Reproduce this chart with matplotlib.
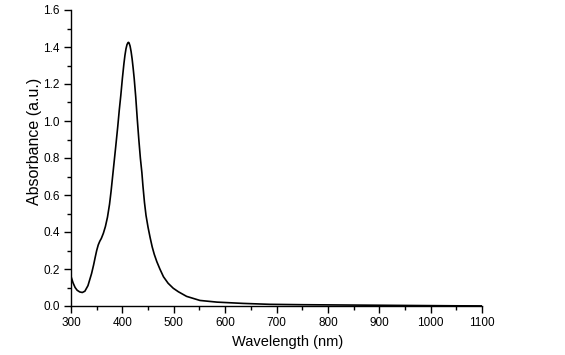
import matplotlib
matplotlib.use("Agg")
import matplotlib.pyplot as plt
from matplotlib.ticker import MultipleLocator

wavelength = [300, 304, 308, 312, 317, 322, 327, 333, 340, 344, 347, 350, 353, 356,
              359, 363, 367, 371, 375, 378, 381, 384, 387, 391, 394, 397, 400, 403,
              405, 407, 409, 411, 412, 413, 415, 417, 419, 421, 423, 426, 429, 432,
              435, 438, 440, 443, 446, 450, 454, 458, 462, 467, 473, 480, 489, 499,
              509, 525, 538, 551, 584, 635, 687, 750, 800, 850, 900, 950, 1000,
              1050, 1100]
absorbance = [0.160, 0.125, 0.100, 0.085, 0.076, 0.073, 0.080, 0.110, 0.175, 0.222,
              0.262, 0.300, 0.330, 0.350, 0.365, 0.393, 0.430, 0.480, 0.550, 0.620,
              0.700, 0.780, 0.860, 0.970, 1.060, 1.140, 1.230, 1.310, 1.355, 1.390,
              1.413, 1.424, 1.425, 1.422, 1.405, 1.375, 1.335, 1.285, 1.230, 1.130,
              1.010, 0.900, 0.800, 0.720, 0.650, 0.560, 0.490, 0.425, 0.370, 0.320,
              0.280, 0.240, 0.200, 0.158, 0.123, 0.096, 0.077, 0.052, 0.041, 0.030,
              0.021, 0.014, 0.009, 0.007, 0.006, 0.005, 0.004, 0.003, 0.002,
              0.001, 0.0005]

x_ticks = [300, 400, 500, 600, 700, 800, 900, 1000, 1100]
y_ticks = [0.0, 0.2, 0.4, 0.6, 0.8, 1.0, 1.2, 1.4, 1.6]

plt.rcParams['font.family'] = ['Liberation Sans', 'DejaVu Sans']

fig = plt.figure(figsize=(5.65, 3.55), dpi=100)
ax = fig.add_axes([71/565, 1 - 306/355, (482 - 71)/565, (306 - 10)/355])

ax.plot(wavelength, absorbance, color='black', lw=1.2)

ax.set_xlim(300, 1100)
ax.set_ylim(0, 1.6)
ax.set_xticks(x_ticks)
ax.set_yticks(y_ticks)
ax.set_xticklabels([str(v) for v in x_ticks])
ax.set_yticklabels([f"{v:.1f}" for v in y_ticks])
ax.xaxis.set_minor_locator(MultipleLocator(50))
ax.yaxis.set_minor_locator(MultipleLocator(0.1))

for s in ['top', 'right']:
    ax.spines[s].set_visible(False)
for s in ['left', 'bottom']:
    ax.spines[s].set_linewidth(1.0)
    ax.spines[s].set_color('black')

ax.tick_params(which='major', direction='out', length=5, width=1.0,
               labelsize=8.5, pad=3, colors='black')
ax.tick_params(which='minor', direction='out', length=3, width=1.0)

fig.text(288/565, 1 - 342/355, "Wavelength (nm)", ha='center', va='center',
         fontsize=10.5)
fig.text(35/565, 1 - 141/355, "Absorbance (a.u.)", ha='center', va='center',
         rotation=90, fontsize=11.5)

fig.savefig("out.png", dpi=100)
